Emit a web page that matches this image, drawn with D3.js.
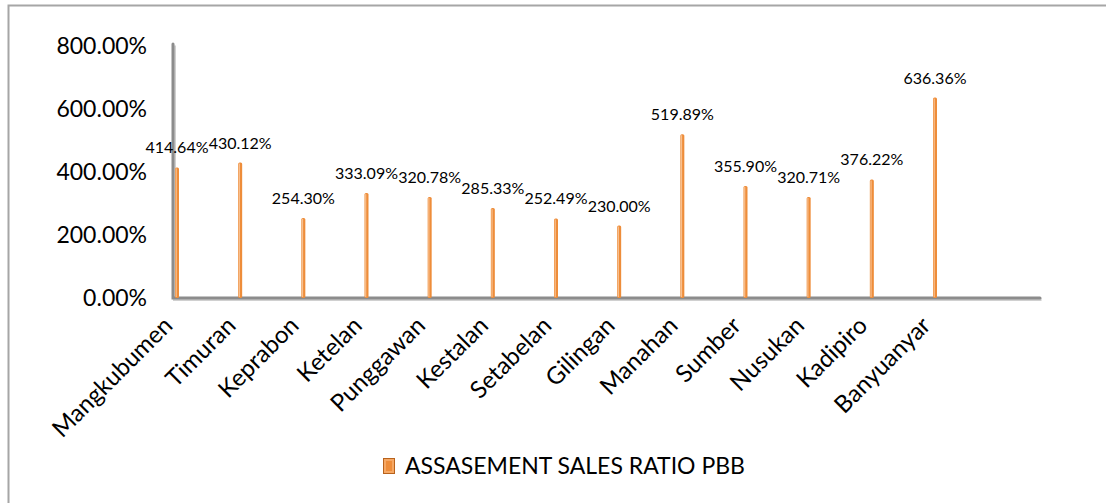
<!DOCTYPE html>
<html>
<head>
<meta charset="utf-8">
<script src="https://cdn.jsdelivr.net/npm/d3@7"></script>
<style>
  body { margin: 0; background: #fff; }
  text { font-family: Lato, "Open Sans", sans-serif; fill: #000; }
</style>
</head>
<body>
<div id="barGraph"></div>
<script>
const categories = ["Mangkubumen", "Timuran", "Keprabon", "Ketelan", "Punggawan", "Kestalan",
  "Setabelan", "Gilingan", "Manahan", "Sumber", "Nusukan", "Kadipiro", "Banyuanyar"];
const ratioValues = [414.64, 430.12, 254.30, 333.09, 320.78, 285.33, 252.49, 230.00,
  519.89, 355.90, 320.71, 376.22, 636.36];
const yTicks = [0, 200, 400, 600, 800];
const seriesName = "ASSASEMENT SALES RATIO PBB";

const width = 1106, height = 503;
const axisX = 173, axisY = 298, axisTop = 46, axisRight = 1040;
const orange = "#ee8d3a";

const svg = d3.select("#barGraph").append("svg")
  .attr("width", width).attr("height", height);

// chart frame (cut off at right and bottom)
svg.append("path")
  .attr("d", `M8.5,${height + 5}V5.5H${width + 5}`)
  .attr("fill", "none").attr("stroke", "#a6a6a6").attr("stroke-width", 2);

//scales
const yScale = d3.scaleLinear().domain([0, 800]).range([axisY, axisTop]);
const xScale = d3.scalePoint().domain(categories).range([177, 935]);

//y tick labels
svg.append("g")
  .attr("transform", `translate(${axisX - 26},0)`)
  .call(d3.axisLeft(yScale).tickValues(yTicks).tickSize(0).tickPadding(0)
    .tickFormat(d => d3.format(".2f")(d) + "%"))
  .call(g => g.select(".domain").remove())
  .selectAll("text")
  .style("font-family", "Lato, sans-serif")
  .style("font-size", "23px")
  .attr("fill", "#000");

//axis lines, shadow first
const axisLine = `M${axisX},${yScale(800) - 2}V${axisY}H${axisRight}`;
svg.append("path").attr("d", axisLine).attr("transform", "translate(1.5,1.5)")
  .attr("fill", "none").attr("stroke", "#d0d0d0").attr("stroke-width", 3);
svg.append("path").attr("d", axisLine)
  .attr("fill", "none").attr("stroke", "#8c8c8c").attr("stroke-width", 3)
  .attr("stroke-linecap", "round");

//bars
const barW = 4;
const bars = svg.append("g").selectAll("g").data(categories).enter().append("g");
bars.append("rect")
  .attr("x", d => xScale(d) - barW / 2)
  .attr("y", (d, i) => yScale(ratioValues[i]))
  .attr("width", barW)
  .attr("height", (d, i) => axisY - yScale(ratioValues[i]))
  .attr("rx", 1.5)
  .attr("fill", orange);
bars.append("rect")
  .attr("x", d => xScale(d) - barW / 2 + 0.6)
  .attr("y", (d, i) => yScale(ratioValues[i]) + 1)
  .attr("width", 1.2)
  .attr("height", (d, i) => axisY - yScale(ratioValues[i]) - 2)
  .attr("fill", "#f8c08f");

//value labels
bars.append("text")
  .attr("x", d => xScale(d))
  .attr("y", (d, i) => yScale(ratioValues[i]) - 14)
  .attr("text-anchor", "middle")
  .style("font-size", "16px")
  .text((d, i) => d3.format(".2f")(ratioValues[i]) + "%");

//category labels
svg.append("g").selectAll("text").data(categories).enter().append("text")
  .attr("transform", d => `translate(${xScale(d) - 3},${axisY + 29}) rotate(-45)`)
  .attr("text-anchor", "end")
  .style("font-size", "24px")
  .text(d => d);

//legend
const legend = svg.append("g").attr("transform", "translate(383,458)");
legend.append("rect").attr("x", 0.5).attr("y", 0.5).attr("width", 11).attr("height", 15)
  .attr("fill", "#f6a864").attr("stroke", "#b8621c");
legend.append("rect").attr("x", 3).attr("y", 3).attr("width", 6).attr("height", 10)
  .attr("fill", orange);
legend.append("text").attr("x", 22).attr("y", 16)
  .style("font-size", "23px")
  .text(seriesName);
</script>
</body>
</html>
